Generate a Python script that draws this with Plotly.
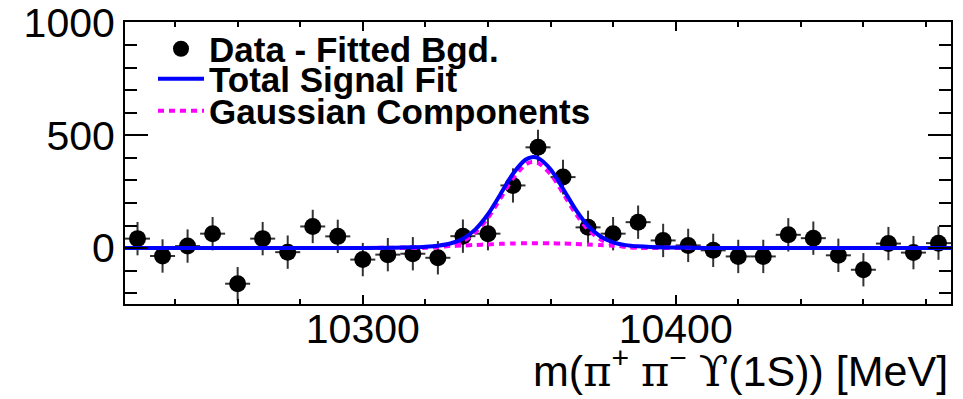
import plotly.graph_objects as go

# ---- data ----
bin_centers = [10228 + 8 * i for i in range(33)]
signal_vals = [42, -35, 9, 64, -158, 42, -18, 96, 52, -51, -29, -25, -43, 53, 64,
               278, 447, 315, 92, 64, 115, 34, 12, -10, -37, -37, 59, 44, -32, -96,
               20, -20, 22]
signal_errs = [74, 74, 74, 74, 74, 74, 74, 74, 74, 74, 74, 74, 74, 74, 74,
               76, 78, 77, 74, 74, 74, 74, 74, 74, 74, 74, 74, 74, 74, 74,
               74, 74, 74]
bin_half_width = 4

fit_x = [10224, 10300, 10310, 10316, 10320, 10324, 10328, 10332, 10336, 10340,
         10344, 10348, 10352, 10354, 10356, 10360, 10364, 10368, 10372, 10376,
         10380, 10384, 10388, 10392, 10400, 10410, 10420, 10488]
gauss_narrow = [0, 0, 0, 0.2, 1.0, 3.7, 11.4, 30.4, 69.1, 133.6,
                220, 309.3, 370.2, 381.5, 377.7, 328.4, 243.2, 153.6, 82.6, 37.9,
                14.8, 4.9, 1.4, 0.3, 0, 0, 0, 0]
gauss_broad = [0, 0.6, 1.9, 3.4, 4.9, 6.8, 8.9, 11.4, 14.0, 16.5,
               18.8, 20.6, 21.7, 21.9, 22.0, 21.5, 20.2, 18.3, 15.9, 13.3,
               10.8, 8.4, 6.3, 4.5, 2.1, 0.6, 0.2, 0]
total_fit = [a + b for a, b in zip(gauss_narrow, gauss_broad)]

x_range = [10224, 10488]
y_range = [-248, 1003]
y_tickvals = [0, 500, 1000]
y_ticktext = ["0", "500", "1000"]
x_tickvals = [10300, 10400]
x_ticktext = ["10300", "10400"]

FONT = "Liberation Sans, Arial, Helvetica, sans-serif"
MAGENTA = "#ff00ff"
BLUE = "#0000ff"
DASH = "6px,5px"

fig = go.Figure()

fig.add_trace(go.Scatter(
    x=bin_centers, y=signal_vals, mode="markers",
    name="Data - Fitted Bgd.", legend="legend", legendrank=1,
    marker=dict(color="black", size=17, symbol="circle"),
    error_y=dict(type="data", array=signal_errs, visible=True,
                 color="#333333", thickness=2, width=0),
    error_x=dict(type="constant", value=bin_half_width, visible=True,
                 color="#333333", thickness=2, width=0),
))

fig.add_trace(go.Scatter(
    x=fit_x, y=gauss_broad, mode="lines", showlegend=False,
    line=dict(color=MAGENTA, width=4, dash=DASH, shape="spline", smoothing=0.8),
))
fig.add_trace(go.Scatter(
    x=fit_x, y=gauss_narrow, mode="lines",
    name="Gaussian Components", legend="legend3", legendrank=3,
    line=dict(color=MAGENTA, width=4, dash=DASH, shape="spline", smoothing=0.8),
))
fig.add_trace(go.Scatter(
    x=fit_x, y=total_fit, mode="lines",
    name="Total Signal Fit", legend="legend2", legendrank=2,
    line=dict(color=BLUE, width=4, shape="spline", smoothing=0.8),
))

plot_l, plot_r, plot_t, plot_b = 125, 951, 22, 304
W, H = 963, 399
pw = plot_r - plot_l
ph = plot_b - plot_t

def px(xpix):
    return (xpix - plot_l) / pw

def py(ypix):
    return (plot_b - ypix) / ph

leg_common = dict(
    bgcolor="rgba(0,0,0,0)", borderwidth=0, xanchor="left", yanchor="middle",
    font=dict(family=FONT, size=35, color="black", weight="bold"),
    itemwidth=46, itemclick=False, itemdoubleclick=False,
)
fig.update_layout(
    legend=dict(x=px(153), y=py(49), **leg_common),
    legend2=dict(x=px(153), y=py(79), **leg_common),
    legend3=dict(x=px(153), y=py(111), **leg_common),
)

fig.update_layout(
    width=W, height=H,
    margin=dict(l=plot_l, r=W - plot_r, t=plot_t, b=H - plot_b, pad=0, autoexpand=False),
    paper_bgcolor="white", plot_bgcolor="white",
    font=dict(family=FONT, color="black"),
    showlegend=True,
    xaxis=dict(
        range=x_range, showgrid=False, zeroline=False, automargin=False,
        showline=True, linecolor="black", linewidth=2, mirror="allticks",
        ticks="inside", ticklen=9, tickwidth=1.5, tickcolor="black",
        tickvals=x_tickvals, ticktext=x_ticktext, ticklabelstandoff=-12,
        tickfont=dict(family=FONT, size=41, color="black"),
        minor=dict(dtick=20, tick0=10220, ticks="inside", ticklen=5,
                   tickwidth=1.5, tickcolor="black", showgrid=False),
    ),
    yaxis=dict(
        range=y_range, showgrid=False, zeroline=False, automargin=False,
        showline=True, linecolor="black", linewidth=2, mirror="allticks",
        ticks="inside", ticklen=23, tickwidth=1.5, tickcolor="black",
        tickvals=y_tickvals, ticktext=y_ticktext,
        tickfont=dict(family=FONT, size=41, color="black"),
        minor=dict(dtick=100, tick0=0, ticks="inside", ticklen=12,
                   tickwidth=1.5, tickcolor="black", showgrid=False),
    ),
    annotations=[dict(
        text=("m(<span style=\"font-family:DejaVu Serif\">π</span><sup>+</sup> "
              "<span style=\"font-family:DejaVu Serif\">π</span><sup>−</sup> "
              "<span style=\"font-family:DejaVu Serif\">ϒ</span>(1S)) [MeV]"),
        xref="paper", yref="paper", x=px(950), y=py(398),
        xanchor="right", yanchor="bottom", showarrow=False,
        font=dict(family=FONT, size=43, color="black"),
    )],
)

fig.write_html("out.html")
